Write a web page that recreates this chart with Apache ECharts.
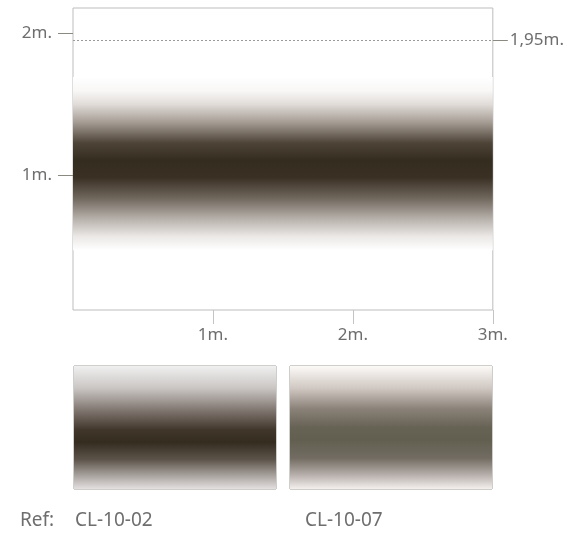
<!DOCTYPE html>
<html>
<head>
<meta charset="utf-8">
<script src="https://cdn.jsdelivr.net/npm/echarts@6/dist/echarts.min.js"></script>
<style>
    html, body { margin: 0; padding: 0; background: #fff; }
    #chart { width: 567px; height: 538px; }
</style>
</head>
<body>
<div id="chart"></div>
<script>
// ticks (metres)
var xTicks = [1, 2, 3];
var yTicks = [1, 2];
var refHeight = 1.95;
var refLabel = '1,95m.';

// band: [x0, x1, yBottom, yTop]
var band = [[0, 3, 0.47, 1.69]];
var swatch = [[0, 1, 0, 1]];
var swatchNames = ['CL-10-02', 'CL-10-07'];

var chart = echarts.init(document.getElementById('chart'));

var mainStops = [
    {offset: 0, color: '#ffffff'},
    {offset: 0.08, color: '#f8f7f6'},
    {offset: 0.16, color: '#e0dbd7'},
    {offset: 0.26, color: '#a69d95'},
    {offset: 0.38, color: '#4e4438'},
    {offset: 0.48, color: '#352c20'},
    {offset: 0.58, color: '#3a3024'},
    {offset: 0.70, color: '#70675d'},
    {offset: 0.82, color: '#b8b2ac'},
    {offset: 0.92, color: '#ebe8e6'},
    {offset: 1, color: '#ffffff'}
];
var stops02 = [
    {offset: 0, color: '#f0f0f0'},
    {offset: 0.18, color: '#cac6c4'},
    {offset: 0.36, color: '#807670'},
    {offset: 0.52, color: '#40362a'},
    {offset: 0.62, color: '#352c20'},
    {offset: 0.76, color: '#5c544a'},
    {offset: 0.89, color: '#a8a29e'},
    {offset: 1, color: '#e4e0e0'}
];
var stops07 = [
    {offset: 0, color: '#fcfaf8'},
    {offset: 0.18, color: '#d0c8c2'},
    {offset: 0.35, color: '#8a8278'},
    {offset: 0.50, color: '#666254'},
    {offset: 0.60, color: '#625f50'},
    {offset: 0.75, color: '#726c62'},
    {offset: 0.88, color: '#b4aca8'},
    {offset: 1, color: '#f4f0ee'}
];

function rectRenderer(stops) {
    return function (params, api) {
        var p0 = api.coord([api.value(0), api.value(3)]);
        var p1 = api.coord([api.value(1), api.value(2)]);
        return {
            type: 'rect',
            shape: {x: p0[0], y: p0[1], width: p1[0] - p0[0], height: p1[1] - p0[1]},
            style: {fill: new echarts.graphic.LinearGradient(0, 0, 0, 1, stops)}
        };
    };
}

var labelFont = {color: '#6e6e6e', fontSize: 17, fontFamily: 'Noto Sans'};
var textStyle = {fill: '#6e6e6e', fontSize: 19, fontFamily: 'Noto Sans'};

chart.setOption({
    animation: false,
    grid: [
        {left: 73, top: 8, width: 420, height: 302, show: true, borderColor: '#bdbdbd', borderWidth: 1},
        {left: 74, top: 366, width: 202, height: 123, show: true, borderColor: '#9c9c96', borderWidth: 1},
        {left: 290, top: 366, width: 202, height: 123, show: true, borderColor: '#9c9c96', borderWidth: 1}
    ],
    xAxis: [
        {
            gridIndex: 0, type: 'value', min: 0, max: 3,
            axisLine: {show: false},
            splitLine: {show: false},
            axisTick: {show: true, length: 14, customValues: xTicks, lineStyle: {color: '#c4c4c4'}},
            axisLabel: Object.assign({
                customValues: xTicks, margin: 17,
                formatter: function (v) { return v + 'm.'; }
            }, labelFont)
        },
        {gridIndex: 1, type: 'value', min: 0, max: 1, show: false},
        {gridIndex: 2, type: 'value', min: 0, max: 1, show: false}
    ],
    yAxis: [
        {
            gridIndex: 0, type: 'value', min: 0.05, max: 2.176,
            axisLine: {show: false},
            splitLine: {show: false},
            axisTick: {show: true, length: 15, customValues: yTicks, lineStyle: {color: '#8a8a80'}},
            axisLabel: Object.assign({
                customValues: yTicks, margin: 21,
                formatter: function (v) { return v + 'm.'; }
            }, labelFont)
        },
        {
            gridIndex: 0, type: 'value', min: 0.05, max: 2.176, position: 'right',
            axisLine: {show: false},
            splitLine: {show: false},
            axisTick: {show: true, length: 15, customValues: [refHeight], lineStyle: {color: '#8a8a80'}},
            axisLabel: Object.assign({
                customValues: [refHeight], margin: 17,
                formatter: function () { return refLabel; }
            }, labelFont)
        },
        {gridIndex: 1, type: 'value', min: 0, max: 1, show: false},
        {gridIndex: 2, type: 'value', min: 0, max: 1, show: false}
    ],
    series: [
        {
            type: 'custom', xAxisIndex: 0, yAxisIndex: 0,
            renderItem: rectRenderer(mainStops),
            data: band,
            silent: true,
            markLine: {
                silent: true, symbol: 'none',
                label: {show: false},
                lineStyle: {type: [2, 2], color: '#9a9a9a', width: 1},
                data: [{yAxis: refHeight}]
            }
        },
        {
            type: 'custom', xAxisIndex: 1, yAxisIndex: 2,
            renderItem: rectRenderer(stops02), data: swatch, silent: true
        },
        {
            type: 'custom', xAxisIndex: 2, yAxisIndex: 3,
            renderItem: rectRenderer(stops07), data: swatch, silent: true
        }
    ],
    graphic: [
        {type: 'text', left: 20, top: 511, style: Object.assign({text: 'Ref:'}, textStyle)},
        {type: 'text', left: 75, top: 511, style: Object.assign({text: swatchNames[0]}, textStyle)},
        {type: 'text', left: 305, top: 511, style: Object.assign({text: swatchNames[1]}, textStyle)}
    ]
});

window.onresize = function () {
    chart.resize();
};
</script>
</body>
</html>
